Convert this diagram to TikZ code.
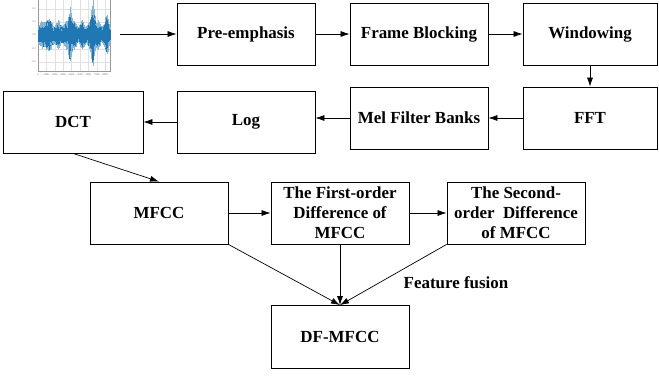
\documentclass[tikz,border=0pt]{standalone}
\usepackage{fontspec}
\setmainfont{Liberation Serif}
\usepackage{tikz}
\usetikzlibrary{positioning}
\usetikzlibrary{arrows.meta}
\definecolor{waveblue}{HTML}{1F77B4}

\begin{document}
\begin{tikzpicture}[
x = 1bp, y = -1bp,
box/.style = {draw, line width = 0.8bp, minimum width = 138bp, minimum height = 62bp,
  inner sep = 0pt, align = center, font = \fontsize{17}{20}\selectfont\bfseries},
link/.style = {line width = 0.7bp, -{Latex[length = 9bp, width = 6bp]}},
tick/.style = {font = \fontsize{2.6}{3}\selectfont, text = black!60, inner sep = 0pt}
]
\useasboundingbox (0,0) rectangle (659,377);

% signal plot
\begin{scope}
\clip (0,0) rectangle (130,80);
\foreach \gx in {0,...,8} {
  \draw[black!12, line width = 0.3bp] (38+\gx*8.4,0) -- (38+\gx*8.4,71);
  \node[tick] at (38+\gx*8.4,75) {\pgfmathparse{int(\gx*1000)}\pgfmathresult};
}
\foreach \gy/\lab in {9/0.2,22/0.1,35/0.0,49/-0.1,62/-0.2} {
  \draw[black!12, line width = 0.3bp] (38,\gy) -- (110,\gy);
  \node[tick, anchor = east] at (36,\gy) {\lab};
}
\draw[black!40, line width = 0.3bp] (38,-2) rectangle (110,71);
\pgfmathsetseed{11}
\foreach \i in {0,...,286} {
  \pgfmathsetmacro\wx{38.5+\i*0.25}
  \pgfmathsetmacro\env{12+3*sin(\wx*45)+24*max(0,1-abs(\wx-70)/2.5)+28*max(0,1-abs(\wx-93)/3)+7*max(0,1-abs(\wx-47)/4)+8*max(0,1-abs(\wx-107)/3)}
  \pgfmathsetmacro\up{\env*(0.6+0.4*rnd)}
  \pgfmathsetmacro\dn{\env*(0.6+0.4*rnd)}
  \draw[waveblue!55, line width = 0.3bp] (\wx,35-\up) -- (\wx,35+\dn);
  \pgfmathsetmacro\up{\env*(0.45+0.4*rnd)}
  \pgfmathsetmacro\dn{\env*(0.45+0.4*rnd)}
  \draw[waveblue, line width = 0.3bp] (\wx,35-\up) -- (\wx,35+\dn);
}
\end{scope}
\coordinate (signal) at (120,34);

% first row
\node[box] (pre) at (246,34) {Pre-emphasis};
\node[box] (frame) at (419,34) {Frame Blocking};
\node[box, minimum width = 134bp] (window) at (590,34) {Windowing};

% second row
\node[box, minimum width = 134bp] (fft) at (590,118) {FFT};
\node[box] (mel) at (419,118) {Mel Filter Banks};
\node[box] (log) at (246,122) {Log};
\node[box, minimum width = 140bp] (dct) at (73,122) {DCT};

% third row
\node[box] (mfcc) at (159,213) {MFCC};
\node[box] (first) at (340,213) {The First-order\\Difference of\\MFCC};
\node[box] (second) at (516,213) {The Second-\\order~~Difference\\of MFCC};
\node[box, minimum height = 63bp] (dfmfcc) at (340,337) {DF-MFCC};
\node[font = \fontsize{17}{20}\selectfont\bfseries, inner sep = 0pt] (fusion) at (456,283) {Feature fusion};

\draw[link] (signal) -- (pre);
\draw[link] (pre) -- (frame);
\draw[link] (frame) -- (window);
\draw[link] (window) -- (fft);
\draw[link] (fft) -- (mel);
\draw[link] (mel.west) -- (mel.west -| log.east);
\draw[link] (log) -- (dct);
\draw[link] (dct.south) -- (mfcc.north);
\draw[link] (mfcc) -- (first);
\draw[link] (first) -- (second);
\draw[link] (mfcc.south east) -- (dfmfcc.north);
\draw[link] (first) -- (dfmfcc);
\draw[link] (second.south west) -- (dfmfcc.north);
\end{tikzpicture}
\end{document}
